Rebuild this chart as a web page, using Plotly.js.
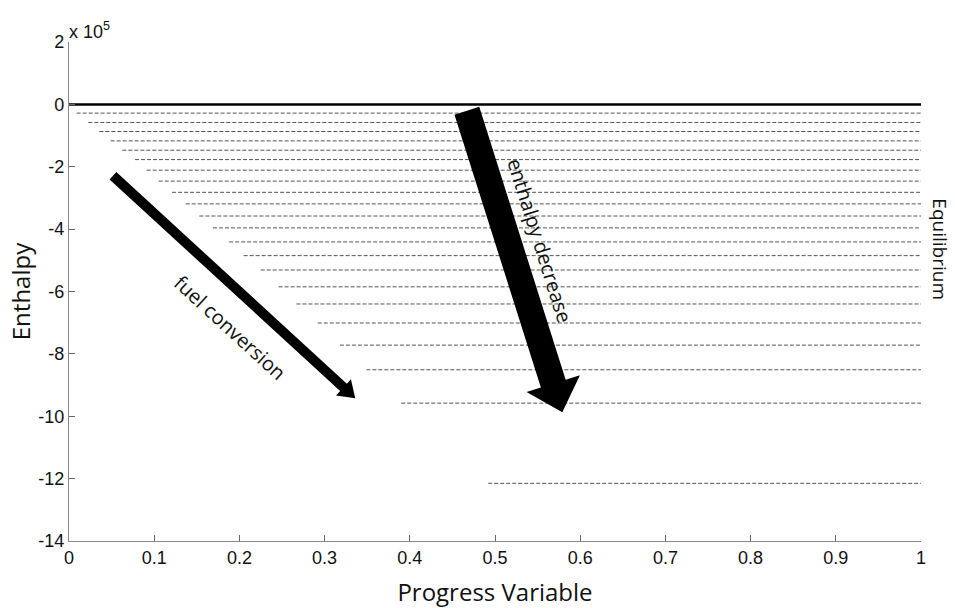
<!DOCTYPE html>
<html>
<head>
<meta charset="utf-8">
<script src="https://cdn.plot.ly/plotly-3.0.1.min.js"></script>
<style>html,body{margin:0;padding:0;background:#fff;}#chart{width:955px;height:608px;}</style>
</head>
<body>
<div id="chart"></div>
<script>
// Enthalpy levels (units of 1e5) and start of each constant-enthalpy line (progress variable)
const levels = [-0.28,-0.58,-0.87,-1.17,-1.47,-1.77,-2.11,-2.46,-2.82,-3.19,-3.58,-3.96,-4.41,-4.85,-5.31,-5.85,-6.40,-7.01,-7.72,-8.51,-9.58,-12.15];
const starts = [0.009,0.0227,0.0356,0.0489,0.0626,0.0775,0.0912,0.1053,0.121,0.137,0.153,0.169,0.188,0.205,0.225,0.246,0.267,0.292,0.318,0.349,0.39,0.492];
const equilibrium = 0;
const xTicks = [0,0.1,0.2,0.3,0.4,0.5,0.6,0.7,0.8,0.9,1];
const xTickText = ['0','0.1','0.2','0.3','0.4','0.5','0.6','0.7','0.8','0.9','1'];
const yTicks = [2,0,-2,-4,-6,-8,-10,-12,-14];
const yTickText = ['2','0','-2','-4','-6','-8','-10','-12','-14'];
// arrows: [tailX, tailY, tipX, tipY]
const fuelArrow = [0.0516,-2.29,0.336,-9.42];
const enthArrow = [0.467,-0.205,0.579,-9.87];

const M = {l:69, r:34, t:42, b:67};
const W = 955 - M.l - M.r, H = 608 - M.t - M.b;
const xr = [0,1], yr = [-14,2];
const toPx = (x,y)=>[(x-xr[0])/(xr[1]-xr[0])*W, (yr[1]-y)/(yr[1]-yr[0])*H];
const toData = (px,py)=>[xr[0]+px/W*(xr[1]-xr[0]), yr[1]-py/H*(yr[1]-yr[0])];

function arrowPath(a, shaft, headHalf, headLen){
  const [tx,ty] = toPx(a[0],a[1]); const [px,py] = toPx(a[2],a[3]);
  const dx=px-tx, dy=py-ty, L=Math.hypot(dx,dy); const ux=dx/L, uy=dy/L; const nx=-uy, ny=ux;
  const bx=px-ux*headLen, by=py-uy*headLen;
  const pts=[[tx+nx*shaft/2,ty+ny*shaft/2],[bx+nx*shaft/2,by+ny*shaft/2],[bx+nx*headHalf,by+ny*headHalf],[px,py],[bx-nx*headHalf,by-ny*headHalf],[bx-nx*shaft/2,by-ny*shaft/2],[tx-nx*shaft/2,ty-ny*shaft/2]];
  return 'M'+pts.map(p=>{const d=toData(p[0],p[1]);return d[0].toFixed(5)+','+d[1].toFixed(5);}).join('L')+'Z';
}

const traces = [];
levels.forEach((lv,i)=>{
  traces.push({x:[starts[i],1], y:[lv,lv], mode:'lines', line:{color:'#555', width:1, dash:'4px,2px'}, hoverinfo:'skip', showlegend:false});
});
traces.push({x:[0,1], y:[equilibrium,equilibrium], mode:'lines', line:{color:'#000', width:2.5}, showlegend:false});

const yTickFont = {family:'Liberation Sans, Arial, sans-serif', size:18, color:'#111'};
const xTickFont = {family:'Liberation Sans Narrow, Arial Narrow, Liberation Sans, sans-serif', size:18, color:'#111'};
const titleFont = {family:'Open Sans, sans-serif', size:24, color:'#111'};
const layout = {
  width:955, height:608, margin:M, paper_bgcolor:'#fff', plot_bgcolor:'#fff', showlegend:false,
  xaxis:{range:xr, tickvals:xTicks, ticktext:xTickText, ticks:'inside', ticklen:6, tickcolor:'#666',
    showline:true, linecolor:'#888', linewidth:1.2, showgrid:false, zeroline:false, tickfont:xTickFont,
    title:{text:'Progress Variable', font:titleFont, standoff:22}},
  yaxis:{range:yr, tickvals:yTicks, ticktext:yTickText, ticks:'inside', ticklen:6, tickcolor:'#666',
    showline:true, linecolor:'#888', linewidth:1.2, showgrid:false, zeroline:false, tickfont:yTickFont,
    title:{text:'Enthalpy', font:titleFont, standoff:0}},
  shapes:[
    {type:'path', xref:'x', yref:'y', path:arrowPath(fuelArrow,10,11,16), fillcolor:'#000', line:{width:0}},
    {type:'path', xref:'x', yref:'y', path:arrowPath(enthArrow,26,28,30), fillcolor:'#000', line:{width:0}}
  ],
  annotations:[
    {xref:'paper', yref:'y', x:-0.002, y:2, xanchor:'left', yanchor:'bottom', showarrow:false, yshift:-2,
     text:'x 10<sup>5</sup>', font:{family:'Liberation Sans, Arial, sans-serif', size:18, color:'#111'}},
    {xref:'x', yref:'y', x:0.189, y:-7.15, showarrow:false, textangle:42.5, text:'fuel conversion',
     font:{family:'Open Sans, sans-serif', size:20, color:'#111'}},
    {xref:'x', yref:'y', x:0.553, y:-4.35, showarrow:false, textangle:72.5, text:'enthalpy decrease',
     font:{family:'Open Sans, sans-serif', size:20, color:'#111'}},
    {xref:'paper', yref:'y', x:1.022, y:-4.64, xanchor:'center', yanchor:'middle', showarrow:false, textangle:90, text:'Equilibrium',
     font:{family:'Open Sans, sans-serif', size:19, color:'#111'}}
  ]
};
Plotly.newPlot('chart', traces, layout, {staticPlot:true});
</script>
</body>
</html>
